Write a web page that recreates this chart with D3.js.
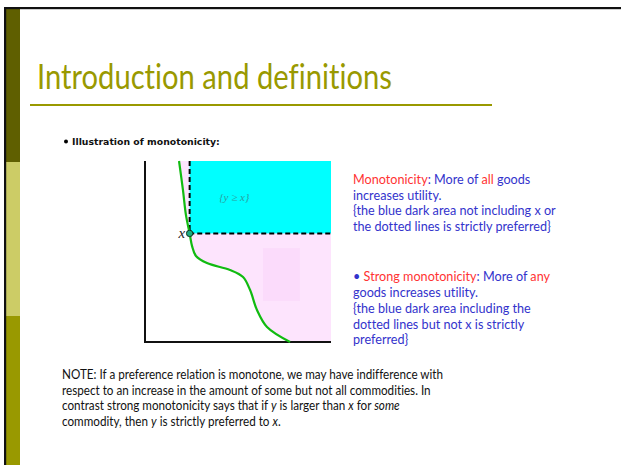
<!DOCTYPE html>
<html>
<head>
<meta charset="utf-8">
<script src="https://cdn.jsdelivr.net/npm/d3@7"></script>
<style>
  body { margin: 0; background: #fff; }
  svg { display: block; }
  text { font-variant-ligatures: none; }
</style>
</head>
<body>
<svg id="slide" width="621" height="465"></svg>
<script>
// indifference curve through x (good 1, good 2)
var goodOne = [1.83, 2.04, 2.20, 2.40, 2.53, 2.74, 3.33, 4.57, 5.27, 5.65, 6.02, 6.56, 7.80];
var goodTwo = [10.0, 8.40, 7.02, 6.00, 5.30, 4.75, 4.36, 3.98, 3.59, 2.87, 1.77, 0.83, 0.00];
var bundleX = [2.4, 6.0];
var axisMax = [10, 10];
var faintBox = [6.34, 8.33, 2.27, 5.19];

var red = "#ff3333", blue = "#3333cc";
var monoLines = [
  [["Monotonicity", red], [": More of ", blue], ["all", red], [" goods", blue]],
  [["increases utility.", blue]],
  [["{the blue dark area not including x or", blue]],
  [["the dotted lines is strictly preferred}", blue]]
];
var strongLines = [
  [["\u2022 ", blue], ["Strong monotonicity", red], [": More of ", blue], ["any", red]],
  [["goods increases utility.", blue]],
  [["{the blue dark area including the", blue]],
  [["dotted lines but not x is strictly", blue]],
  [["preferred}", blue]]
];
var noteLines = [
  [["NOTE: If a preference relation is monotone, we may have indifference with", ""]],
  [["respect to an increase in the amount of some but not all commodities. In", ""]],
  [["contrast strong monotonicity says that if ", ""], ["y", "i"], [" is larger than ", ""], ["x", "i"], [" for ", ""], ["some", "i"]],
  [["commodity, then ", ""], ["y", "i"], [" is strictly preferred to ", ""], ["x", "i"], [".", ""]]
];

var svg = d3.select("#slide");
var bodyFont = "Lato, 'Open Sans', sans-serif";

// slide frame
svg.append("rect").attr("x", 6).attr("y", 9).attr("width", 14).attr("height", 153).attr("fill", "#5f5f00");
svg.append("rect").attr("x", 6).attr("y", 162).attr("width", 14).attr("height", 154).attr("fill", "#cccc66");
svg.append("rect").attr("x", 6).attr("y", 316).attr("width", 14).attr("height", 149).attr("fill", "#999900");
svg.append("rect").attr("x", 4).attr("y", 7).attr("width", 617).attr("height", 2.2).attr("fill", "#111");
svg.append("rect").attr("x", 4).attr("y", 7).attr("width", 2.2).attr("height", 458).attr("fill", "#111");

// squeeze a text (or group) horizontally so it spans the target width
function squeeze(sel, node, x0, target) {
  var sx = target / node.getComputedTextLength();
  sel.attr("transform", "translate(" + x0 + ",0) scale(" + sx + ",1) translate(" + (-x0) + ",0)");
}

// title
var title = svg.append("text")
    .attr("x", 37).attr("y", 89)
    .attr("font-family", bodyFont)
    .attr("font-size", 35)
    .attr("fill", "#999900")
    .text("Introduction and definitions");
squeeze(title, title.node(), 37, 355);

svg.append("line")
    .attr("x1", 30).attr("x2", 492).attr("y1", 105).attr("y2", 105)
    .attr("stroke", "#999900").attr("stroke-width", 2.2);

// bullet heading
svg.append("circle").attr("cx", 66).attr("cy", 141.5).attr("r", 2).attr("fill", "#000");
var head = svg.append("text")
    .attr("x", 72).attr("y", 145)
    .attr("font-family", "'DejaVu Sans', sans-serif")
    .attr("font-weight", "bold")
    .attr("font-size", 9.5)
    .attr("fill", "#111")
    .text("Illustration of monotonicity:");
squeeze(head, head.node(), 72, 148);

// chart
var x = d3.scaleLinear().domain([0, axisMax[0]]).range([145, 331]),
    y = d3.scaleLinear().domain([0, axisMax[1]]).range([342, 161]);

var curve = goodOne.map(function(d, i) { return [d, goodTwo[i]]; });
var line = d3.line().x(function(d) { return x(d[0]); }).y(function(d) { return y(d[1]); }).curve(d3.curveCatmullRom);

svg.append("path")
    .attr("d", line(curve) + "L" + x(axisMax[0]) + "," + y(0) + "L" + x(axisMax[0]) + "," + y(axisMax[1]) + "Z")
    .attr("fill", "#fde4fd");

svg.append("rect")
    .attr("x", x(faintBox[0])).attr("width", x(faintBox[1]) - x(faintBox[0]))
    .attr("y", y(faintBox[3])).attr("height", y(faintBox[2]) - y(faintBox[3]))
    .attr("fill", "#fbdbfb");

svg.append("rect")
    .attr("x", x(bundleX[0])).attr("width", x(axisMax[0]) - x(bundleX[0]))
    .attr("y", y(axisMax[1])).attr("height", y(bundleX[1]) - y(axisMax[1]))
    .attr("fill", "#00ffff");

svg.append("text")
    .attr("x", x(4.8)).attr("y", y(7.8))
    .attr("text-anchor", "middle")
    .attr("font-family", "'Liberation Serif', serif")
    .attr("font-style", "italic")
    .attr("font-size", 11)
    .attr("fill", "#2a9d9d")
    .text("{y \u2265 x}");

// axes
svg.append("path")
    .attr("d", "M" + x(0) + "," + y(axisMax[1]) + "V" + y(0) + "H" + x(axisMax[0]))
    .attr("fill", "none").attr("stroke", "#111").attr("stroke-width", 2);

// dashed bounds of {y >= x}
svg.append("path")
    .attr("d", "M" + x(bundleX[0]) + "," + y(axisMax[1]) + "V" + y(bundleX[1]) + "H" + x(axisMax[0]))
    .attr("fill", "none").attr("stroke", "#000").attr("stroke-width", 2)
    .attr("stroke-dasharray", "5,3");

svg.append("path")
    .datum(curve)
    .attr("d", line)
    .attr("fill", "none").attr("stroke", "#11bb11").attr("stroke-width", 2.2);

svg.append("circle")
    .attr("cx", x(bundleX[0])).attr("cy", y(bundleX[1])).attr("r", 3.2)
    .attr("fill", "#1aaa80").attr("stroke", "#113322").attr("stroke-width", 1);

svg.append("text")
    .attr("x", x(bundleX[0]) - 4.5).attr("y", y(bundleX[1]) + 4.5)
    .attr("text-anchor", "end")
    .attr("font-family", "'Liberation Serif', serif")
    .attr("font-style", "italic")
    .attr("font-size", 15)
    .attr("fill", "#222")
    .text("x");

// text blocks
function block(lines, x0, y0, step, size, color) {
  var g = svg.append("g").attr("font-family", bodyFont).attr("font-size", size);
  lines.forEach(function(line, i) {
    var t = g.append("text").attr("x", x0).attr("y", y0 + i * step);
    line.forEach(function(seg) {
      var s = t.append("tspan").text(seg[0]);
      if (seg[1] === "i") s.attr("font-style", "italic").attr("fill", color);
      else s.attr("fill", seg[1] || color);
    });
  });
  return g;
}

var g1 = block(monoLines, 353, 184, 15.7, 12.5, blue);
var sx1 = 198 / g1.selectAll("text").nodes()[3].getComputedTextLength();
g1.attr("transform", "translate(353,0) scale(" + sx1 + ",1) translate(-353,0)");
var g2 = block(strongLines, 353, 281.5, 15.7, 12.5, blue);
g2.attr("transform", "translate(353,0) scale(" + sx1 + ",1) translate(-353,0)");

var g3 = block(noteLines, 62, 379, 15.6, 12.8, "#111");
var sx3 = 381 / g3.selectAll("text").nodes()[0].getComputedTextLength();
g3.attr("transform", "translate(62,0) scale(" + sx3 + ",1) translate(-62,0)");
</script>
</body>
</html>
